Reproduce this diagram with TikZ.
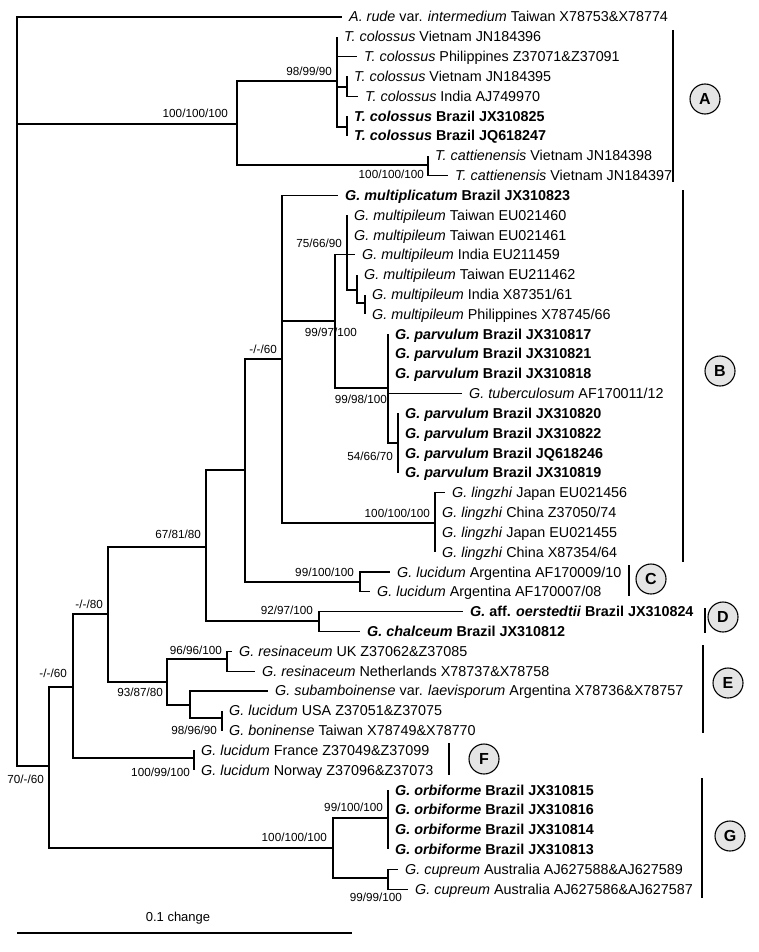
\documentclass[tikz,border=0pt]{standalone}
\usepackage{fontspec}
\setmainfont{Liberation Sans}

\tikzset{
  branch/.style={line width=1.2pt},
  tip/.style={anchor=west, inner xsep=7pt, inner ysep=0pt, text height=12pt, text depth=2pt, font=\fontsize{14.35}{16}\selectfont},
  boot/.style={anchor=east, inner sep=0pt, text height=8.4pt, text depth=0pt, font=\fontsize{11.7}{13}\selectfont},
  cladebar/.style={line width=1.6pt},
  clade/.style={circle, draw, line width=1.1pt, fill=black!10, minimum size=30pt, inner sep=0pt, font=\fontsize{16}{18}\selectfont\bfseries},
}

\begin{document}
\begin{tikzpicture}[x=1pt, y=-1pt]
	\useasboundingbox (0,0) rectangle (759,952);
	
	% Internal nodes of the tree
	\coordinate (root) at (17,391);
	\coordinate (nA)   at (237,124);
	\coordinate (nTc)  at (337,81);
	\coordinate (nTc2) at (347,87);
	\coordinate (nTc3) at (347,127);
	\coordinate (nTca) at (428,165);
	\coordinate (nG0)  at (49,766);
	\coordinate (nEF)  at (73,687);
	\coordinate (nCE)  at (108,614);
	\coordinate (nCD)  at (206,547);
	\coordinate (nB0)  at (245,470);
	\coordinate (nB1)  at (282,359);
	\coordinate (nB2)  at (335,321);
	\coordinate (nMp)  at (347,254.8);
	\coordinate (nMp2) at (357,290);
	\coordinate (nMp3) at (365,303);
	\coordinate (nPv)  at (388,388);
	\coordinate (nPv2) at (398,443);
	\coordinate (nLz)  at (435,523);
	\coordinate (nC)   at (360,582);
	\coordinate (nD)   at (319,621);
	\coordinate (nE)   at (167,682);
	\coordinate (nE1)  at (227,659);
	\coordinate (nE2)  at (190,705);
	\coordinate (nE3)  at (222,718);
	\coordinate (nF)   at (194,758);
	\coordinate (nG)   at (333,848);
	\coordinate (nGo)  at (388,818);
	\coordinate (nGc)  at (388,878);
	
	% Tips (west anchor = end of branch)
	\node[tip] (t1) at (342,17.0) {\textit{A. rude} var. \textit{intermedium} Taiwan X78753\&X78774};
	\node[tip] (t2) at (337,36.8) {\textit{T. colossus} Vietnam JN184396};
	\node[tip] (t3) at (357,56.6) {\textit{T. colossus} Philippines Z37071\&Z37091};
	\node[tip] (t4) at (347,76.5) {\textit{T. colossus} Vietnam JN184395};
	\node[tip] (t5) at (358,96.3) {\textit{T. colossus} India AJ749970};
	\node[tip] (t6) at (347,116.1) {\bfseries\textit{T. colossus} Brazil JX310825};
	\node[tip] (t7) at (347,135.9) {\bfseries\textit{T. colossus} Brazil JQ618247};
	\node[tip] (t8) at (428,155.7) {\textit{T. cattienensis} Vietnam JN184398};
	\node[tip] (t9) at (448,175.6) {\textit{T. cattienensis} Vietnam JN184397};
	\node[tip] (t10) at (338,195.4) {\bfseries\textit{G. multiplicatum} Brazil JX310823};
	\node[tip] (t11) at (347,215.2) {\textit{G. multipileum} Taiwan EU021460};
	\node[tip] (t12) at (347,235.0) {\textit{G. multipileum} Taiwan EU021461};
	\node[tip] (t13) at (355,254.8) {\textit{G. multipileum} India EU211459};
	\node[tip] (t14) at (357,274.7) {\textit{G. multipileum} Taiwan EU211462};
	\node[tip] (t15) at (365,294.5) {\textit{G. multipileum} India X87351/61};
	\node[tip] (t16) at (365,314.3) {\textit{G. multipileum} Philippines X78745/66};
	\node[tip] (t17) at (388,334.1) {\bfseries\textit{G. parvulum} Brazil JX310817};
	\node[tip] (t18) at (388,353.9) {\bfseries\textit{G. parvulum} Brazil JX310821};
	\node[tip] (t19) at (388,373.8) {\bfseries\textit{G. parvulum} Brazil JX310818};
	\node[tip] (t20) at (462,393.6) {\textit{G. tuberculosum} AF170011/12};
	\node[tip] (t21) at (398,413.4) {\bfseries\textit{G. parvulum} Brazil JX310820};
	\node[tip] (t22) at (398,433.2) {\bfseries\textit{G. parvulum} Brazil JX310822};
	\node[tip] (t23) at (398,453.0) {\bfseries\textit{G. parvulum} Brazil JQ618246};
	\node[tip] (t24) at (398,472.8) {\bfseries\textit{G. parvulum} Brazil JX310819};
	\node[tip] (t25) at (445,492.7) {\textit{G. lingzhi} Japan EU021456};
	\node[tip] (t26) at (435,512.5) {\textit{G. lingzhi} China Z37050/74};
	\node[tip] (t27) at (435,532.3) {\textit{G. lingzhi} Japan EU021455};
	\node[tip] (t28) at (435,552.1) {\textit{G. lingzhi} China X87354/64};
	\node[tip] (t29) at (390,572.0) {\textit{G. lucidum} Argentina AF170009/10};
	\node[tip] (t30) at (370,591.8) {\textit{G. lucidum} Argentina AF170007/08};
	\node[tip] (t31) at (463,611.6) {\bfseries\textit{G.} aff. \textit{oerstedtii} Brazil JX310824};
	\node[tip] (t32) at (360,631.4) {\bfseries\textit{G. chalceum} Brazil JX310812};
	\node[tip] (t33) at (232,651.2) {\textit{G. resinaceum} UK Z37062\&Z37085};
	\node[tip] (t34) at (255,671.1) {\textit{G. resinaceum} Netherlands X78737\&X78758};
	\node[tip] (t35) at (268,690.9) {\textit{G. subamboinense} var. \textit{laevisporum} Argentina X78736\&X78757};
	\node[tip] (t36) at (222,710.7) {\textit{G. lucidum} USA Z37051\&Z37075};
	\node[tip] (t37) at (222,730.5) {\textit{G. boninense} Taiwan X78749\&X78770};
	\node[tip] (t38) at (194,750.3) {\textit{G. lucidum} France Z37049\&Z37099};
	\node[tip] (t39) at (194,770.2) {\textit{G. lucidum} Norway Z37096\&Z37073};
	\node[tip] (t40) at (388,790.0) {\bfseries\textit{G. orbiforme} Brazil JX310815};
	\node[tip] (t41) at (388,809.8) {\bfseries\textit{G. orbiforme} Brazil JX310816};
	\node[tip] (t42) at (388,829.6) {\bfseries\textit{G. orbiforme} Brazil JX310814};
	\node[tip] (t43) at (388,849.4) {\bfseries\textit{G. orbiforme} Brazil JX310813};
	\node[tip] (t44) at (398,869.3) {\textit{G. cupreum} Australia AJ627588\&AJ627589};
	\node[tip] (t45) at (408,889.1) {\textit{G. cupreum} Australia AJ627586\&AJ627587};
	
	% Draw branches
	\draw[branch] (root) |- (t1.west) (root) |- (nA) (root) |- (nG0);
	\draw[branch] (nA) |- (nTc) (nA) |- (nTca);
	\draw[branch] (nTc) |- (t2.west) (nTc) |- (t3.west) (nTc) |- (nTc2) (nTc) |- (nTc3);
	\draw[branch] (nTc2) |- (t4.west) (nTc2) |- (t5.west);
	\draw[branch] (nTc3) |- (t6.west) (nTc3) |- (t7.west);
	\draw[branch] (nTca) |- (t8.west) (nTca) |- (t9.west);
	\draw[branch] (nG0) |- (nEF) (nG0) |- (nG);
	\draw[branch] (nEF) |- (nCE) (nEF) |- (nF);
	\draw[branch] (nCE) |- (nCD) (nCE) |- (nE);
	\draw[branch] (nCD) |- (nB0) (nCD) |- (nD);
	\draw[branch] (nB0) |- (nB1) (nB0) |- (nC);
	\draw[branch] (nB1) |- (t10.west) (nB1) |- (nB2) (nB1) |- (nLz);
	\draw[branch] (nB2) |- (nMp) (nB2) |- (nPv);
	\draw[branch] (nMp) |- (t11.west) (nMp) |- (t12.west) (nMp) |- (t13.west) (nMp) |- (nMp2);
	\draw[branch] (nMp2) |- (t14.west) (nMp2) |- (nMp3);
	\draw[branch] (nMp3) |- (t15.west) (nMp3) |- (t16.west);
	\draw[branch] (nPv) |- (t17.west) (nPv) |- (t18.west) (nPv) |- (t19.west) (nPv) |- (t20.west) (nPv) |- (nPv2);
	\draw[branch] (nPv2) |- (t21.west) (nPv2) |- (t22.west) (nPv2) |- (t23.west) (nPv2) |- (t24.west);
	\draw[branch] (nLz) |- (t25.west) (nLz) |- (t26.west) (nLz) |- (t27.west) (nLz) |- (t28.west);
	\draw[branch] (nC) |- (t29.west) (nC) |- (t30.west);
	\draw[branch] (nD) |- (t31.west) (nD) |- (t32.west);
	\draw[branch] (nE) |- (nE1) (nE) |- (nE2);
	\draw[branch] (nE1) |- (t33.west) (nE1) |- (t34.west);
	\draw[branch] (nE2) |- (t35.west) (nE2) |- (nE3);
	\draw[branch] (nE3) |- (t36.west) (nE3) |- (t37.west);
	\draw[branch] (nF) |- (t38.west) (nF) |- (t39.west);
	\draw[branch] (nG) |- (nGo) (nG) |- (nGc);
	\draw[branch] (nGo) |- (t40.west) (nGo) |- (t41.west) (nGo) |- (t42.west) (nGo) |- (t43.west);
	\draw[branch] (nGc) |- (t44.west) (nGc) |- (t45.west);
	
	% Support values
	\node[boot] (bA)   at (228,113) {100/100/100};
	\node[boot] (bTc)  at (332,71)  {98/99/90};
	\node[boot] (bTca) at (424,174) {100/100/100};
	\node[boot] (bB1)  at (277,349) {-/-/60};
	\node[boot] (bMp)  at (342,243) {75/66/90};
	\node[boot] (bB2)  at (357,332) {99/97/100};
	\node[boot] (bPv)  at (387,399) {99/98/100};
	\node[boot] (bPv2) at (393,456) {54/66/70};
	\node[boot] (bLz)  at (430,513) {100/100/100};
	\node[boot] (bC)   at (354,572) {99/100/100};
	\node[boot] (bCD)  at (201,534) {67/81/80};
	\node[boot] (bD)   at (313,610) {92/97/100};
	\node[boot] (bCE)  at (103,604) {-/-/80};
	\node[boot] (bE)   at (163,692) {93/87/80};
	\node[boot] (bE1)  at (222,650) {96/96/100};
	\node[boot] (bE3)  at (217,730) {98/96/90};
	\node[boot] (bF)   at (190,772) {100/99/100};
	\node[boot] (bEF)  at (67,673)  {-/-/60};
	\node[boot] (bG0)  at (44,779)  {70/-/60};
	\node[boot] (bG)   at (327,837) {100/100/100};
	\node[boot] (bGo)  at (383,807) {99/100/100};
	\node[boot] (bGc)  at (402,897) {99/99/100};
	
	% Clade bars and letters
	\draw[cladebar] (673,30) -- (673,182);
	\node[clade] (cA) at (705,99) {A};
	\draw[cladebar] (683,190) -- (683,562);
	\node[clade] (cB) at (720,371) {B};
	\draw[cladebar] (629,565) -- (629,596);
	\node[clade] (cC) at (651,579) {C};
	\draw[cladebar] (705,608) -- (705,633);
	\node[clade] (cD) at (723,617) {D};
	\draw[cladebar] (703,645) -- (703,733);
	\node[clade] (cE) at (728,683) {E};
	\draw[cladebar] (449,743) -- (449,775);
	\node[clade] (cF) at (484,759) {F};
	\draw[cladebar] (702,778) -- (702,898);
	\node[clade] (cG) at (730,836) {G};
	
	% Scale bar
	\node[inner sep=0pt, text height=9.3pt, text depth=0pt, font=\fontsize{13}{15}\selectfont] (scale) at (178,917) {0.1 change};
	\coordinate (s0) at (17,933);
	\coordinate (s1) at (352,933);
	\draw[branch] (s0) -- (s1);
	
\end{tikzpicture}
\end{document}
